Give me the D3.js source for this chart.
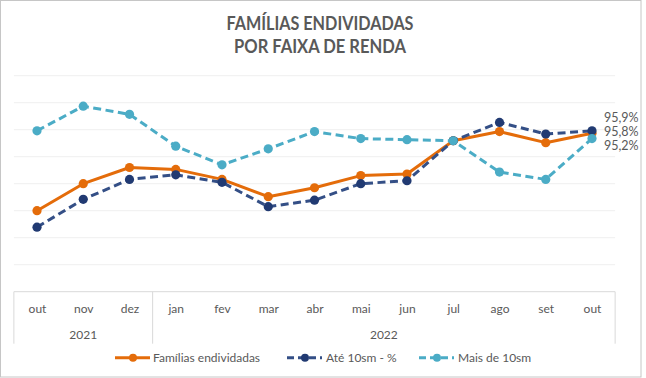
<!DOCTYPE html>
<html><head><meta charset="utf-8">
<script src="https://cdn.jsdelivr.net/npm/d3@7"></script>
<style>body{margin:0;background:#fff}svg{display:block}text{font-family:Lato,"Open Sans",sans-serif}</style>
</head><body>
<svg id="c" width="646" height="378"></svg>
<script>
const months = ["out","nov","dez","jan","fev","mar","abr","mai","jun","jul","ago","set","out"];
const years  = ["2021","2021","2021","2022","2022","2022","2022","2022","2022","2022","2022","2022","2022"];
const familias = [93.0, 94.0, 94.6, 94.53, 94.16, 93.52, 93.85, 94.3, 94.36, 95.59, 95.93, 95.52, 95.87];
const ate10    = [92.39, 93.42, 94.16, 94.33, 94.05, 93.15, 93.39, 94.0, 94.11, 95.59, 96.27, 95.84, 95.96];
const mais10   = [95.96, 96.87, 96.57, 95.39, 94.7, 95.29, 95.93, 95.67, 95.63, 95.59, 94.43, 94.16, 95.67];
const endLabels = ["95,9%","95,8%","95,2%"];
const seriesNames = ["Famílias endividadas","Até 10sm - %","Mais de 10sm"];
const title = ["FAMÍLIAS ENDIVIDADAS","POR FAIXA DE RENDA"];

const svg = d3.select("#c");
const gray = "#595959";
svg.append("rect").attr("x",0.5).attr("y",0.5).attr("width",640.5).attr("height",376.5)
  .attr("fill","#fff").attr("stroke","#c6c6c6");

const idx = months.map((m,i)=>i);
const x = d3.scalePoint().domain(idx).range([37,592]);
const step = x.step();
const y = d3.scaleLinear().domain([90,98]).range([291.7,75.7]);
const left = x(0)-step/2, right = x(idx.length-1)+step/2;

// title
const titleW = [187,172];
svg.selectAll(".title").data(title).enter().append("text")
  .attr("x",320).attr("y",(d,i)=>29.5+i*23).attr("text-anchor","middle")
  .attr("font-size",18.5).attr("font-weight","bold").attr("fill",gray)
  .attr("textLength",(d,i)=>titleW[i]).attr("lengthAdjust","spacingAndGlyphs").text(d=>d);

// gridlines
svg.append("g").selectAll("line").data(d3.range(91,99)).enter().append("line")
  .attr("x1",left).attr("x2",right).attr("y1",d=>y(d)).attr("y2",d=>y(d))
  .attr("stroke","#efefef").attr("stroke-width",1);

// x axis with months
const xAxis = d3.axisBottom(x).tickSize(0).tickFormat(i=>months[i]);
const ax = svg.append("g").attr("transform",`translate(0,${y(90)})`).call(xAxis);
ax.select(".domain").remove();
ax.selectAll("text").attr("font-size",12).attr("fill",gray).attr("dy",0).attr("y",21.5)
  .style("font-family","Lato");
svg.append("line").attr("x1",left).attr("x2",right).attr("y1",y(90)).attr("y2",y(90)).attr("stroke","#d9d9d9");
// year groups
const yearGroups = d3.groups(idx, i=>years[i]);
const bounds = [left];
yearGroups.forEach(([yr,ids])=>{ bounds.push(x(ids[ids.length-1])+step/2); });
svg.append("g").selectAll("line").data(bounds).enter().append("line")
  .attr("x1",d=>d).attr("x2",d=>d).attr("y1",y(90)).attr("y2",y(90)+52)
  .attr("stroke","#d9d9d9");
svg.append("g").selectAll("text").data(yearGroups).enter().append("text")
  .attr("x",([yr,ids])=>(x(ids[0])+x(ids[ids.length-1]))/2).attr("y",y(90)+47.5)
  .attr("text-anchor","middle").attr("font-size",12).attr("fill",gray).text(([yr])=>yr);

const styles = [
  {data:familias, line:"#e46c0a", mark:"#e46c0a", dash:null, w:3},
  {data:ate10, line:"#344f86", mark:"#213a72", dash:"8,4.5", w:3},
  {data:mais10, line:"#4bacc6", mark:"#4bacc6", dash:"8,4.5", w:3}
];
const lineGen = d3.line().x((d,i)=>x(i)).y(d=>y(d));
styles.forEach(s=>{
  const g = svg.append("g");
  g.append("path").datum(s.data).attr("d",lineGen).attr("fill","none")
    .attr("stroke",s.line).attr("stroke-width",s.w).attr("stroke-dasharray",s.dash)
    .attr("stroke-linejoin","round");
  g.selectAll("circle").data(s.data).enter().append("circle")
    .attr("cx",(d,i)=>x(i)).attr("cy",d=>y(d)).attr("r",4.6).attr("fill",s.mark);
});

// end labels
const lastX = x(idx.length-1);
const topY = y(ate10[ate10.length-1]);
svg.append("g").selectAll("text").data(endLabels).enter().append("text")
  .attr("x",lastX+12).attr("y",(d,i)=>topY-13.4+i*14.2).attr("dy","0.35em")
  .attr("font-size",12.5).attr("fill",gray).text(d=>d);

// legend
const legX = [115, 287, 419];
const legY = 357.7;
styles.forEach((s,i)=>{
  const g = svg.append("g");
  g.append("line").attr("x1",legX[i]).attr("x2",legX[i]+35).attr("y1",legY).attr("y2",legY)
    .attr("stroke",s.line).attr("stroke-width",3).attr("stroke-dasharray",s.dash?"7,4":null);
  g.append("circle").attr("cx",legX[i]+18).attr("cy",legY).attr("r",4).attr("fill",s.mark);
  g.append("text").attr("x",legX[i]+(i==0?38:39)).attr("y",legY).attr("dy","0.35em")
    .attr("font-size",12).attr("fill",gray).text(seriesNames[i]);
});
</script>
</body></html>
